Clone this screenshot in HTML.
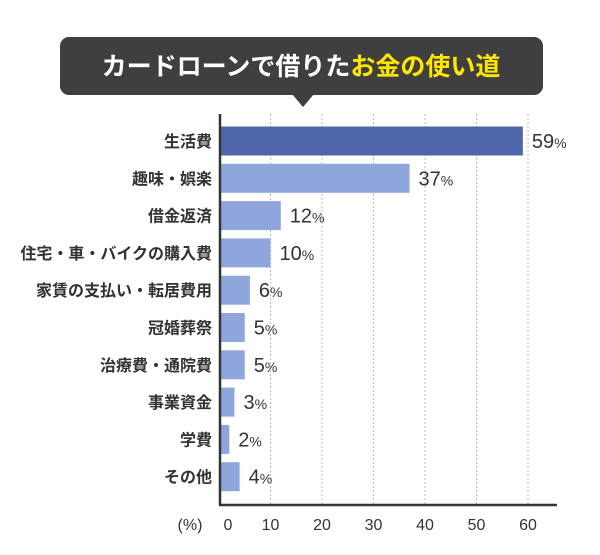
<!DOCTYPE html>
<html><head><meta charset="utf-8"><style>
body{margin:0;width:600px;height:550px;background:#fff;font-family:"Liberation Sans","Noto Sans CJK JP",sans-serif;overflow:hidden}
</style></head><body>
<svg width="600" height="550" xmlns="http://www.w3.org/2000/svg">
<g>
<rect x="60" y="37" width="483" height="58" rx="9" fill="#3f3f3f"/>
<polygon points="292,94 314,94 303,107" fill="#3f3f3f"/>
<text x="301" y="75" text-anchor="middle" font-size="25" font-weight="bold" fill="#fff" font-family="'Liberation Sans','Noto Sans CJK JP',sans-serif">カードローンで借りた<tspan fill="#ffe600">お金の使い道</tspan></text>
</g>
<g id="grid"></g><g id="bars"></g>
<line x1="220" y1="114" x2="220" y2="505" stroke="#333" stroke-width="2.5"/>
<line x1="219" y1="505" x2="557" y2="505" stroke="#333" stroke-width="2.5"/>
<text x="190" y="530" text-anchor="middle" font-size="16" fill="#333">(%)</text>
</svg>
<script>
const categories=["生活費","趣味・娯楽","借金返済","住宅・車・バイクの購入費","家賃の支払い・転居費用","冠婚葬祭","治療費・通院費","事業資金","学費","その他"];
const values=[59,37,12,10,6,5,5,3,2,4];
const ticks=[0,10,20,30,40,50,60];
const NS="http://www.w3.org/2000/svg";
const x=v=>219+v*5.15;
const y=i=>141+i*37.3;
const g=document.getElementById('grid'),b=document.getElementById('bars');
function mk(t,a,p){const e=document.createElementNS(NS,t);for(const k in a)e.setAttribute(k,a[k]);p.appendChild(e);return e;}
ticks.forEach(t=>{
 if(t>0){const l=mk('line',{x1:x(t),x2:x(t),y1:114,y2:505,stroke:'#bbb','stroke-dasharray':'2,2'},g);
 
 }
 const tx=mk('text',{x:t==0?228:x(t),y:530,'text-anchor':'middle','font-size':16,fill:'#333'},g);
 tx.textContent=t;
 
 
});
categories.forEach((c,i)=>{
 const r=mk('rect',{x:221,y:y(i)-14.5,width:Math.max(0,x(values[i])-221),height:29,fill:i==0?'#4f66a8':'#8fa6dc'},b);
 
 
 const l=mk('text',{x:212,y:y(i)+6,'text-anchor':'end','font-size':16,'font-weight':'bold',fill:'#333'},b);
 l.textContent=c;
 
 
 const v=mk('text',{x:x(values[i])+9,y:y(i)+7,'font-size':20,fill:'#333'},b);
 v.innerHTML=values[i]+'<tspan font-size="14">%</tspan>';
 
 
});
</script>
</body></html>
